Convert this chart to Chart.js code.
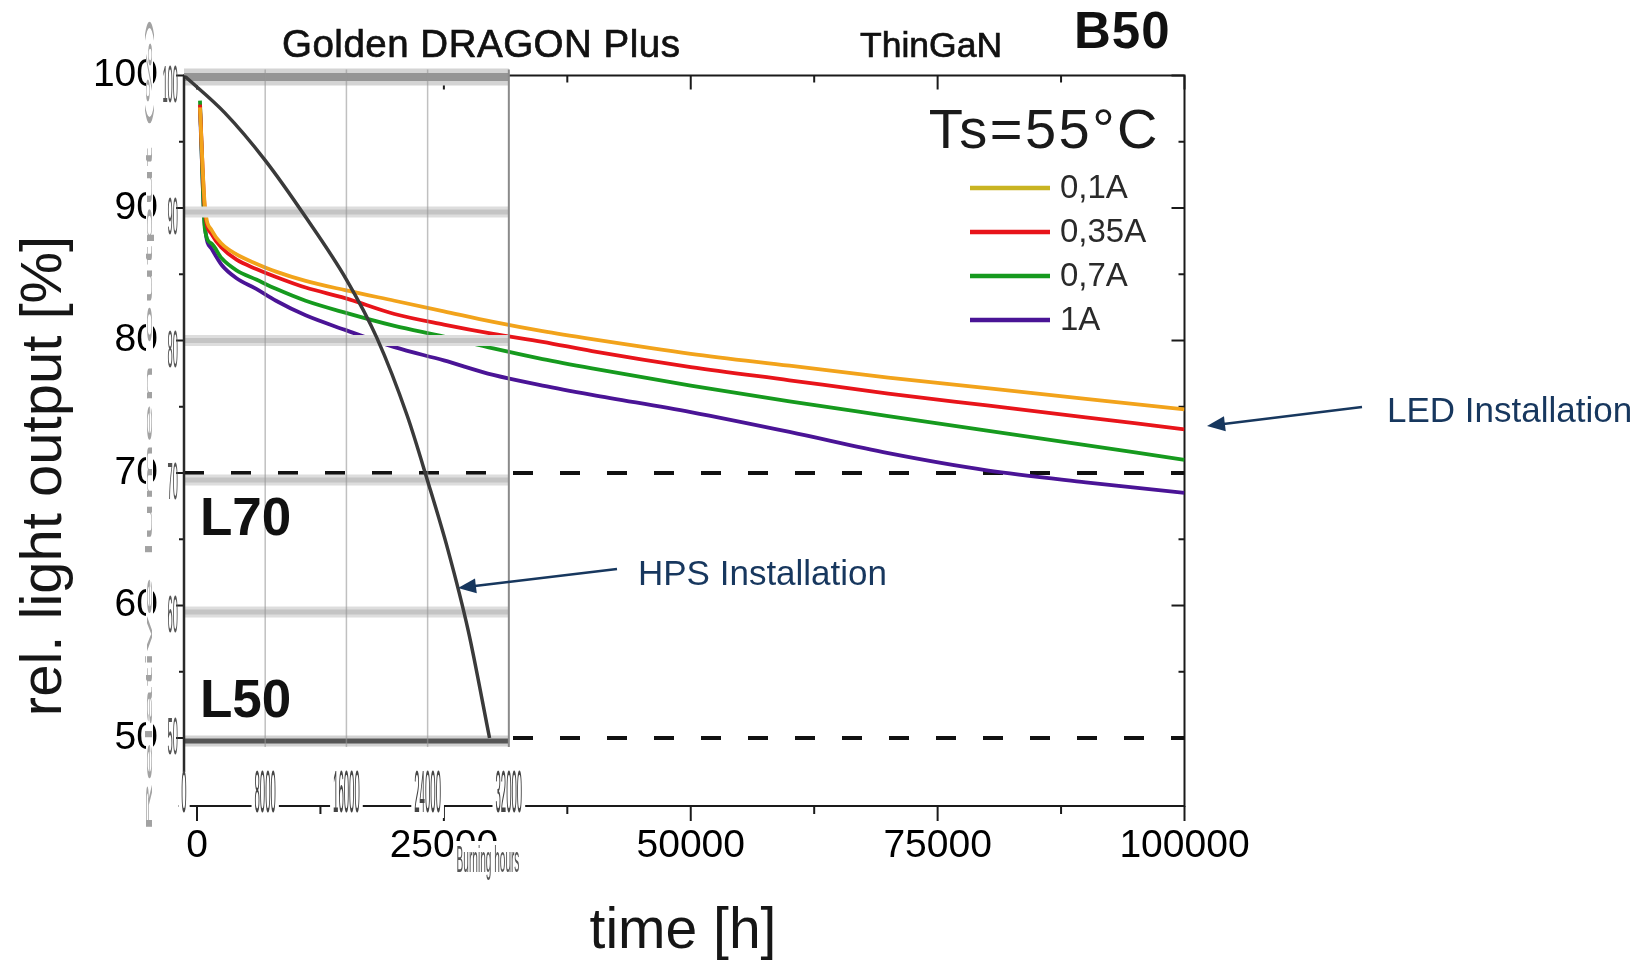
<!DOCTYPE html>
<html>
<head>
<meta charset="utf-8">
<title>Golden DRAGON Plus - LED vs HPS</title>
<style>
  html, body { margin: 0; padding: 0; background: #fff; }
  canvas { display: block; }
</style>
</head>
<body>
<canvas id="chart" width="1635" height="962"></canvas>
<script src="https://cdn.jsdelivr.net/npm/chart.js@4.4.1/dist/chart.umd.min.js"></script>
<script>
// LED light output, Ts = 55 °C, one series per drive current
const hours = [300, 800, 1500, 2500, 4000, 6000, 8000, 11000, 15000, 20000, 25000, 30000, 35000, 40000, 50000, 60000, 70000, 80000, 90000, 100000];
const led01 = [97.6, 90.1, 88.3, 87.3, 86.5, 85.8, 85.2, 84.5, 83.8, 83.0, 82.2, 81.4, 80.7, 80.1, 79.0, 78.1, 77.2, 76.4, 75.6, 74.8];
const led035 = [97.8, 89.8, 88.0, 87.0, 86.1, 85.4, 84.8, 84.0, 83.2, 82.0, 81.2, 80.5, 79.9, 79.2, 78.0, 77.0, 76.0, 75.1, 74.2, 73.3];
const led07 = [98.1, 88.4, 87.3, 86.2, 85.3, 84.6, 83.9, 83.0, 82.1, 81.1, 80.3, 79.4, 78.6, 77.9, 76.6, 75.4, 74.3, 73.2, 72.1, 71.0];
const led1 = [97.5, 88.6, 86.9, 85.7, 84.7, 83.9, 83.0, 81.9, 80.8, 79.5, 78.5, 77.4, 76.6, 75.9, 74.6, 73.1, 71.5, 70.2, 69.3, 68.5];
const currents = ['0,1A', '0,35A', '0,7A', '1A'];

// HPS lamp from the inset (burning hours)
const hpsHours = [0, 4000, 8000, 12000, 16000, 19000, 22000, 24000, 26000, 28000, 30100];
const hpsValues = [100, 97.2, 93.6, 89.3, 84.6, 80.2, 74.3, 69.4, 64.2, 58.1, 50.0];

// L70 / L50 limits
const limits = [70, 50];

// ticks
const xTicks = [0, 12500, 25000, 37500, 50000, 62500, 75000, 87500, 100000];
const yTicks = [50, 55, 60, 65, 70, 75, 80, 85, 90, 95, 100];
const insetXTicks = [0, 8000, 16000, 24000, 32000];
const insetYTicks = [100, 90, 80, 70, 60, 50];

const X_MIN = -1316, X_MAX = 100000;
const Y_MIN = 44.87, Y_MAX = 100;
const INSET_MAX = 98560; // inset hours axis, 32000 h lands at the inset frame

const FONT = '"Liberation Sans", Arial, sans-serif';
const NAVY = '#17375e';
const ledColors = ['#f2a31b', '#e8141a', '#169a1e', '#4a1496'];
const legendColors = ['#c9b422', '#e8141a', '#169a1e', '#4a1496'];
const ledSeries = [led01, led035, led07, led1];
// the pasted inset is slightly off the main grid
const bandShift = { 100: 1.5, 90: 4, 80: 0, 70: 7, 60: 6.5, 50: 3 };

function line(ctx, x1, y1, x2, y2) {
  ctx.beginPath();
  ctx.moveTo(x1, y1);
  ctx.lineTo(x2, y2);
  ctx.stroke();
}

function arrow(ctx, x1, y1, x2, y2) {
  const a = Math.atan2(y2 - y1, x2 - x1);
  const head = 18, half = 7.5;
  ctx.lineWidth = 2.5;
  line(ctx, x1, y1, x2 - Math.cos(a) * head * 0.7, y2 - Math.sin(a) * head * 0.7);
  ctx.beginPath();
  ctx.moveTo(x2, y2);
  ctx.lineTo(x2 - head * Math.cos(a) + half * Math.sin(a), y2 - head * Math.sin(a) - half * Math.cos(a));
  ctx.lineTo(x2 - head * Math.cos(a) - half * Math.sin(a), y2 - head * Math.sin(a) + half * Math.cos(a));
  ctx.closePath();
  ctx.fill();
}

// narrow, stretched text like the pasted-in inset
function squeezed(ctx, text, x, y, size, sx, color, align, bg) {
  ctx.save();
  ctx.font = size + 'px ' + FONT;
  ctx.textBaseline = 'middle';
  ctx.textAlign = align;
  const w = ctx.measureText(text).width * sx;
  if (bg) {
    const left = align === 'center' ? x - w / 2 : (align === 'right' ? x - w : x);
    ctx.fillStyle = '#fff';
    ctx.fillRect(left - bg[0], y - bg[1] / 2, w + 2 * bg[0], bg[1]);
  }
  ctx.translate(x, y);
  ctx.scale(sx, 1);
  ctx.fillStyle = color;
  ctx.fillText(text, 0, 0);
  ctx.restore();
}

function heading(ctx, text, x, y, font) {
  ctx.font = font;
  ctx.fillText(text, x, y);
  ctx.lineWidth = 0.7;
  ctx.strokeText(text, x, y);
}

function drawInset(chart) {
  const { ctx, scales: { x2, y } } = chart;
  const l = x2.getPixelForValue(0), r = x2.getPixelForValue(32000);
  ctx.save();
  insetYTicks.forEach(v => {
    const py = y.getPixelForValue(v) + bandShift[v];
    let outer = '#dddddd', core = '#c4c4c4', h = 11, ch = 5;
    if (v === 100) { outer = '#d4d4d4'; core = '#959595'; h = 17; ch = 8; }
    if (v === 50) { outer = '#d2d2d2'; core = '#565656'; }
    ctx.fillStyle = outer;
    ctx.fillRect(l, py - h / 2, r - l, h);
    ctx.fillStyle = core;
    ctx.fillRect(l, py - ch / 2, r - l, ch);
  });
  const top = y.getPixelForValue(100) - 6, bottom = y.getPixelForValue(50) + 9;
  insetXTicks.slice(1).forEach(v => {
    const px = x2.getPixelForValue(v);
    ctx.strokeStyle = v === 32000 ? '#8a8a8a' : 'rgba(150,150,150,0.6)';
    ctx.lineWidth = v === 32000 ? 2 : 1.5;
    line(ctx, px, top, px, bottom);
  });
  ctx.restore();
}

const decor = {
  id: 'decor',
  beforeDatasetsDraw(chart) {
    const { ctx, chartArea: a, scales: { x, y } } = chart;
    ctx.save();
    ctx.strokeStyle = '#1a1a1a';
    ctx.lineWidth = 2;
    ctx.strokeRect(a.left, a.top, a.right - a.left, a.bottom - a.top);
    line(ctx, a.left - 6, a.bottom, a.left, a.bottom);
    xTicks.forEach(v => {
      const px = x.getPixelForValue(v);
      const major = v % 25000 === 0;
      line(ctx, px, a.bottom, px, a.bottom + (major ? 15 : 8));
      line(ctx, px, a.top, px, a.top + (major ? 14 : 7));
    });
    yTicks.forEach(v => {
      const py = y.getPixelForValue(v);
      const major = v % 10 === 0;
      line(ctx, a.left - (major ? 8 : 5), py, a.left, py);
      line(ctx, a.right - (major ? 13 : 6), py, a.right, py);
    });
    ctx.restore();
  },
  afterDatasetDraw(chart, args) {
    if (args.index === 1) drawInset(chart);
  },
  afterDraw(chart) {
    const { ctx, chartArea: a, scales: { x2, y } } = chart;
    ctx.save();

    // left frame through the inset bands
    ctx.strokeStyle = '#2a2a2a';
    ctx.lineWidth = 2.5;
    line(ctx, a.left, a.top, a.left, a.bottom);

    // squeezed axis title of the inset
    ctx.fillStyle = '#fff';
    ctx.fillRect(146, 14, 7, 822);
    ctx.save();
    ctx.translate(149.5, 425);
    ctx.rotate(-Math.PI / 2);
    ctx.font = '9px ' + FONT;
    const gt = 'Relative lumen output (%)';
    ctx.scale(815 / ctx.measureText(gt).width, 1);
    ctx.fillStyle = '#a2a2a2';
    ctx.textAlign = 'center';
    ctx.textBaseline = 'middle';
    ctx.fillText(gt, 0, 0);
    ctx.restore();

    // inset tick labels
    insetYTicks.forEach(v => {
      const py = y.getPixelForValue(v) + (v === 50 ? 2 : 12);
      squeezed(ctx, String(v), 178, py, 52, 0.18, '#555', 'right');
    });
    insetXTicks.forEach(v => {
      squeezed(ctx, String(v), x2.getPixelForValue(v), 795, 60, 0.16, '#444', 'center', [3, 46]);
    });
    squeezed(ctx, 'Burning hours', 488, 862, 36, 0.28, '#555', 'center', [3, 42]);

    // axis titles
    ctx.fillStyle = '#161616';
    ctx.save();
    ctx.translate(45, 476);
    ctx.rotate(-Math.PI / 2);
    ctx.font = '58px ' + FONT;
    ctx.textAlign = 'center';
    ctx.textBaseline = 'middle';
    ctx.fillText('rel. light output [%]', 0, 0);
    ctx.restore();
    ctx.font = '57px ' + FONT;
    ctx.textAlign = 'center';
    ctx.textBaseline = 'alphabetic';
    ctx.fillText('time [h]', 683, 948);

    // headings
    ctx.textAlign = 'left';
    ctx.fillStyle = '#111';
    ctx.strokeStyle = '#111';
    ctx.letterSpacing = '0.5px';
    heading(ctx, 'Golden DRAGON Plus', 282, 57, '38.5px ' + FONT);
    ctx.letterSpacing = '0px';
    heading(ctx, 'ThinGaN', 860, 57, '35.5px ' + FONT);
    ctx.font = 'bold 51px ' + FONT;
    ctx.letterSpacing = '1px';
    ctx.fillText('B50', 1074, 48);

    // Ts and legend
    ctx.font = '56px ' + FONT;
    ctx.letterSpacing = '2.5px';
    ctx.textAlign = 'right';
    ctx.fillStyle = '#1a1a1a';
    ctx.fillText('Ts=55°C', 1160, 148);
    ctx.letterSpacing = '0px';
    ctx.textAlign = 'left';
    ctx.textBaseline = 'middle';
    ctx.font = '33px ' + FONT;
    currents.forEach((c, k) => {
      const ly = 188 + k * 44;
      ctx.strokeStyle = legendColors[k];
      ctx.lineWidth = 4.5;
      line(ctx, 970, ly, 1050, ly);
      ctx.fillStyle = '#2a2a2a';
      ctx.fillText(c, 1060, ly + 1);
    });

    // L70 / L50
    ctx.textBaseline = 'alphabetic';
    ctx.fillStyle = '#111';
    ctx.font = 'bold 53px ' + FONT;
    ctx.fillText('L70', 200, 535);
    ctx.fillText('L50', 200, 717);

    // annotations
    ctx.fillStyle = NAVY;
    ctx.strokeStyle = NAVY;
    ctx.font = '35px ' + FONT;
    ctx.textBaseline = 'middle';
    ctx.fillText('LED Installation', 1387, 412);
    ctx.fillText('HPS Installation', 638, 575);
    arrow(ctx, 1362, 407, 1207, 426);
    arrow(ctx, 617, 569, 458, 588);

    ctx.restore();
  }
};

const tickFont = { family: FONT, size: 39 };

new Chart(document.getElementById('chart'), {
  type: 'line',
  data: {
    datasets: [
      {
        label: 'HPS',
        xAxisID: 'x2',
        data: hpsHours.map((h, i) => ({ x: h, y: hpsValues[i] })),
        borderColor: '#3a3a3a',
        borderWidth: 3.5,
        pointRadius: 0,
        cubicInterpolationMode: 'monotone'
      },
      ...ledSeries.map((vals, k) => ({
        label: currents[k],
        data: hours.map((h, i) => ({ x: h, y: vals[i] })),
        borderColor: ledColors[k],
        borderWidth: 3.8,
        pointRadius: 0,
        cubicInterpolationMode: 'monotone'
      })),
      ...limits.map(v => ({
        label: 'L' + v,
        data: [{ x: X_MIN, y: v }, { x: X_MAX, y: v }],
        borderColor: '#111',
        borderWidth: 4,
        borderDash: [20, 27],
        pointRadius: 0
      }))
    ]
  },
  options: {
    responsive: false,
    animation: false,
    devicePixelRatio: 1,
    layout: { padding: { left: 0, top: 75.5, right: 450.5, bottom: 0 } },
    plugins: {
      legend: { display: false },
      title: { display: false },
      tooltip: { enabled: false }
    },
    scales: {
      x: {
        type: 'linear',
        min: X_MIN,
        max: X_MAX,
        afterBuildTicks: s => { s.ticks = xTicks.map(v => ({ value: v })); },
        afterFit: s => { s.height = 156; },
        grid: { display: false, drawTicks: false },
        border: { display: false },
        ticks: {
          autoSkip: false,
          maxRotation: 0,
          padding: 17,
          color: '#000',
          font: tickFont,
          callback: v => (v % 25000 === 0 ? String(v) : '')
        }
      },
      x2: { type: 'linear', display: false, min: 0, max: INSET_MAX },
      y: {
        min: Y_MIN,
        max: Y_MAX,
        afterBuildTicks: s => { s.ticks = yTicks.map(v => ({ value: v })); },
        afterFit: s => { s.width = 184; },
        grid: { display: false, drawTicks: false },
        border: { display: false },
        ticks: {
          autoSkip: false,
          padding: 26,
          color: '#000',
          font: tickFont,
          callback: v => (v % 10 === 0 ? String(v) : '')
        }
      }
    }
  },
  plugins: [decor]
});
</script>
</body>
</html>
